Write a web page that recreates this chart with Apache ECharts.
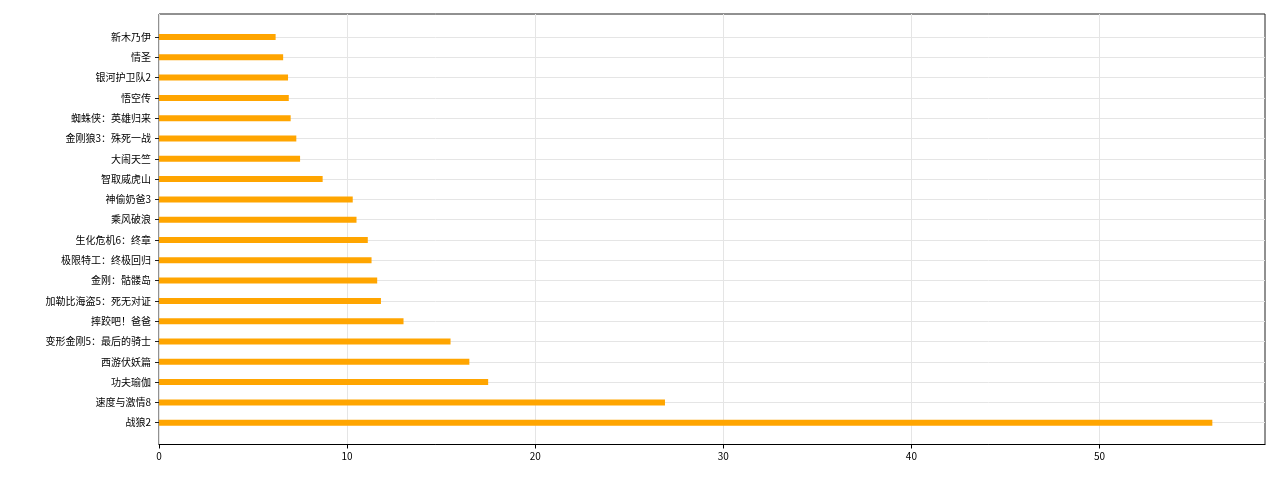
<!DOCTYPE html>
<html>
<head>
<meta charset="utf-8">
<script src="https://cdn.jsdelivr.net/npm/echarts@6/dist/echarts.min.js"></script>
<style>html,body{margin:0;padding:0;background:#fff}#c{width:1267px;height:483px}</style>
</head>
<body>
<div id="c"></div>
<script>
const categories = ['战狼2','速度与激情8','功夫瑜伽','西游伏妖篇','变形金刚5：最后的骑士','摔跤吧！爸爸','加勒比海盗5：死无对证','金刚：骷髅岛','极限特工：终极回归','生化危机6：终章','乘风破浪','神偷奶爸3','智取威虎山','大闹天竺','金刚狼3：殊死一战','蜘蛛侠：英雄归来','悟空传','银河护卫队2','情圣','新木乃伊'];
const values = [56.0, 26.9, 17.5, 16.5, 15.5, 13.0, 11.8, 11.6, 11.3, 11.1, 10.5, 10.3, 8.7, 7.5, 7.3, 7.0, 6.9, 6.86, 6.6, 6.2];
const xTicks = [0, 10, 20, 30, 40, 50];

const font = '"Noto Sans CJK SC", "DejaVu Sans", sans-serif';
const chart = echarts.init(document.getElementById('c'));
chart.setOption({
  animation: false,
  grid: [
    {left: 159, right: 2, top: 14, bottom: 38.5, show: true, borderColor: '#222', borderWidth: 1, backgroundColor: 'transparent'},
    {left: 159, right: 2, top: 26.85, bottom: 50.15}
  ],
  xAxis: [
    {gridIndex: 0, type: 'value', min: 0, max: 58.8, interval: 10,
     axisLine: {show: true, lineStyle: {color: '#000', width: 1}},
     axisTick: {show: true, length: 4, inside: false, customValues: xTicks, lineStyle: {color: '#000'}},
     axisLabel: {fontSize: 10, color: '#000', fontFamily: font, margin: 7, customValues: xTicks},
     splitLine: {show: true, lineStyle: {color: '#e5e5e5', width: 1}}},
    {gridIndex: 1, type: 'value', min: 0, max: 58.8, show: false}
  ],
  yAxis: [
    {gridIndex: 0, type: 'value', min: 0, max: 1, show: false},
    {gridIndex: 1, type: 'category', data: categories,
     axisLine: {show: false},
     axisTick: {show: true, length: 4, alignWithLabel: true, lineStyle: {color: '#222'}},
     axisLabel: {fontSize: 10, color: '#000', fontFamily: font, margin: 8},
     splitLine: {show: true, alignWithLabel: true, lineStyle: {color: '#e5e5e5', width: 1}}}
  ],
  series: [{
    type: 'bar', xAxisIndex: 1, yAxisIndex: 1, data: values,
    barWidth: 6, itemStyle: {color: '#FFA500'}
  }]
});
</script>
</body>
</html>
